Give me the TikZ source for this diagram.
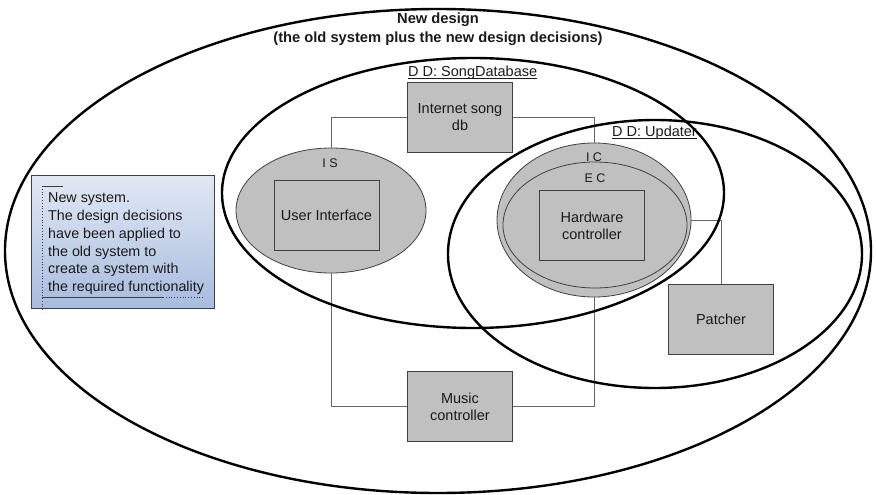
\documentclass[tikz,border=0pt]{standalone}
\usepackage{fontspec}
\setmainfont{Liberation Sans}
\usetikzlibrary{shapes.geometric}

\definecolor{boxgray}{HTML}{C0C0C0}
\definecolor{edgegray}{HTML}{404040}
\definecolor{wiregray}{HTML}{666666}
\definecolor{notetop}{HTML}{E2E8F3}
\definecolor{notebot}{HTML}{A7BCDF}
\definecolor{inktext}{HTML}{1A1A1A}

\begin{document}
\begin{tikzpicture}[x=1pt,y=-1pt,
  font=\fontsize{14.5}{17}\selectfont,
  comp/.style={rectangle, draw=edgegray, line width=1pt, fill=boxgray,
    minimum width=105pt, minimum height=70pt, inner sep=0pt, align=center, text=inktext},
  shell/.style={ellipse, draw=edgegray, line width=0.8pt, fill=boxgray, inner sep=0pt},
  region/.style={ellipse, draw=black, line width=2.4pt, inner sep=0pt},
  wire/.style={draw=wiregray, line width=0.9pt},
  tag/.style={font=\fontsize{12.5}{14}\selectfont, text=inktext, inner sep=0pt},
  ddlabel/.style={text=inktext, inner sep=0pt, anchor=base west},
  headline/.style={font=\bfseries\fontsize{14.7}{17}\selectfont, text=inktext, inner sep=0pt, anchor=base},
  rule/.style={draw=edgegray, line width=0.8pt},
  dotrule/.style={draw=edgegray, line width=0.8pt, dotted},
]
\useasboundingbox (0,0) rectangle (876,495);

% interface shells
\node[shell, minimum width=190pt, minimum height=125pt] (is) at (331,210.5) {};
\node[shell, minimum width=194pt, minimum height=154pt] (ic) at (594,220) {};
\node[shell, minimum width=184pt, minimum height=126pt] (ec) at (595,225) {};

% components
\node[comp] (ui) at (326.5,215) {User Interface};
\node[comp] (hw) at (592,225.5) {Hardware\\controller};
\node[comp] (isdb) at (460,117.5) {Internet song\\db};
\node[comp] (music) at (460,406.5) {Music\\controller};
\node[comp] (patcher) at (721,319.5) {Patcher};

% shell tags
\node[tag] (tagis) at (330,163.5) {I S};
\node[tag] (tagic) at (594,157) {I C};
\node[tag] (tagec) at (595,178.5) {E C};

% connectors
\draw[wire] (isdb) -| (is);
\draw[wire] (isdb) -| (ic);
\draw[wire] (music) -| (is);
\draw[wire] (music) -| (ic);
\draw[wire] (patcher) |- (ic);

% explanatory note
\node[rectangle, draw=edgegray, line width=0.9pt, top color=notetop, bottom color=notebot,
  minimum width=182.6pt, minimum height=132.6pt, inner sep=0pt] (note) at (123,242) {};
\node[anchor=north west, align=left, inner sep=0pt, text=inktext,
  font=\fontsize{14.3}{17.8}\selectfont] (notetext) at (48,192.7)
  {New system.\\The design decisions\\have been applied to\\the old system to\\create a system with\\the required functionality};
\coordinate (mk1) at (42,186);
\coordinate (mk2) at (63,186);
\coordinate (mk3) at (42,312);
\coordinate (mk4) at (42,297.7);
\coordinate (mk5) at (163,297.7);
\coordinate (mk6) at (203,297.7);
\draw[dotrule] (mk1) -- (mk3);
\draw[rule] (mk1) -- (mk2);
\draw[rule] (mk4) -- (mk5);
\draw[dotrule] (mk5) -- (mk6);

% design decision labels
\node[ddlabel] (ddsong) at (408,77) {D D: SongDatabase};
\draw[rule, draw=inktext] ([yshift=-1.6pt]ddsong.base west) -- ([yshift=-1.6pt]ddsong.base east);
\node[ddlabel] (ddupd) at (612,136.5) {D D: Updater};
\draw[rule, draw=inktext] ([yshift=-1.6pt]ddupd.base west) -- ([yshift=-1.6pt]ddupd.base east);

% title
\node[headline] (title1) at (438,24) {New design};
\node[headline] (title2) at (438,43) {(the old system plus the new design decisions)};

% design regions
\node[region, minimum width=502pt, minimum height=270pt] (songdb) at (473,193) {};
\node[region, minimum width=414pt, minimum height=268pt] (updater) at (655,254) {};
\node[region, minimum width=866pt, minimum height=484pt] (world) at (438,251) {};
\end{tikzpicture}
\end{document}
